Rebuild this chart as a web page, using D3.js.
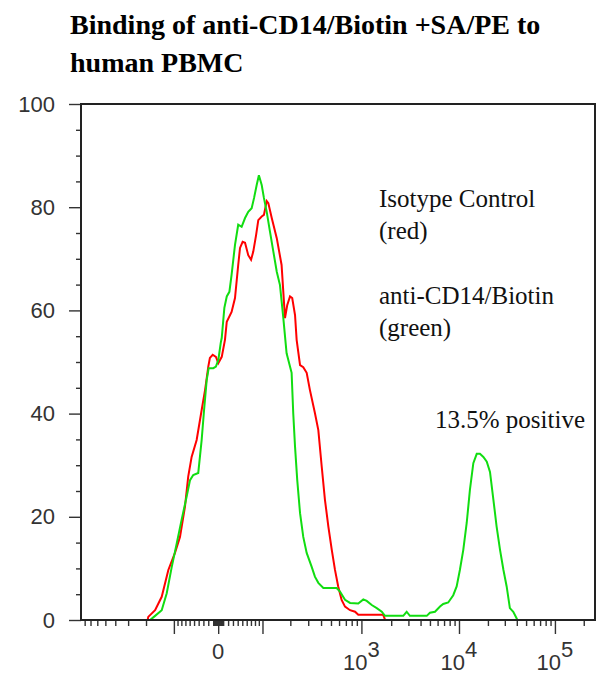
<!DOCTYPE html>
<html>
<head>
<meta charset="utf-8">
<script src="https://cdn.jsdelivr.net/npm/d3@7"></script>
<style>
  body { margin: 0; background: #fff; }
  svg { display: block; }
</style>
</head>
<body>
<svg id="chart"></svg>
<script>
// histogram traces: [display channel (0-256), % of max]
const isotypeRed = [
  [0, 0], [33.2, 0], [33.5, 0.6], [36.9, 1.9], [40.2, 4.5], [43.5, 9.7], [46.8, 13.0],
  [49.3, 16.1], [51.8, 22.0], [53.4, 27.8], [55.1, 31.6], [57.6, 34.9], [60.1, 40.7],
  [61.8, 44.6], [63.4, 49.1], [64.2, 50.8], [65.6, 51.4], [67.2, 51.0], [68.4, 49.8],
  [70.1, 51.0], [71.7, 54.3], [72.6, 57.8], [75.0, 59.7], [76.7, 62.4], [78.3, 68.8],
  [79.2, 72.1], [80.5, 73.3], [81.7, 73.1], [83.3, 70.7], [84.7, 69.8], [85.8, 71.4],
  [87.2, 74.6], [88.3, 77.5], [90.0, 78.2], [91.1, 78.5], [92.5, 81.2], [93.3, 80.8],
  [95.0, 77.9], [97.5, 74.0], [99.9, 68.8], [101.6, 58.5], [102.7, 61.0], [104.1, 62.7],
  [105.2, 62.4], [106.6, 59.1], [107.4, 54.3], [109.1, 49.4], [110.7, 49.0], [112.4, 47.9],
  [114.0, 44.6], [116.5, 40.1], [118.2, 36.8], [119.9, 29.7], [121.5, 23.3], [123.2, 18.1],
  [124.9, 13.6], [126.5, 9.7], [128.1, 6.5], [129.8, 3.9], [131.5, 2.6], [134.0, 1.9],
  [136.5, 1.6], [138.1, 1.0], [150.5, 1.0], [151.5, 0], [256, 0]
];

const cd14Green = [
  [0, 0], [34.4, 0], [36.9, 0.8], [40.2, 1.9], [42.7, 5.2], [45.2, 10.3], [47.7, 14.9],
  [50.1, 19.4], [52.6, 23.9], [54.3, 27.1], [55.9, 28.1], [58.4, 28.5], [60.1, 34.9],
  [61.3, 40.7], [62.6, 46.5], [63.6, 48.8], [65.9, 48.8], [67.2, 49.1], [68.4, 50.4],
  [69.6, 53.7], [70.1, 54.7], [71.4, 60.5], [72.6, 62.7], [73.9, 63.6], [75.0, 66.9],
  [76.7, 72.7], [78.3, 76.6], [80.0, 76.2], [81.7, 77.9], [83.3, 79.1], [85.0, 79.8],
  [86.2, 81.8], [87.5, 84.3], [88.6, 86.2], [90.0, 84.3], [91.1, 81.8], [92.5, 79.1],
  [94.1, 75.3], [95.8, 71.4], [97.5, 67.5], [99.1, 64.9], [100.7, 58.8], [102.4, 51.7],
  [104.9, 47.9], [105.7, 40.1], [106.6, 33.6], [107.7, 27.1], [109.1, 20.7], [110.7, 16.1],
  [112.4, 13.0], [114.9, 10.3], [116.5, 8.4], [118.2, 7.2], [120.7, 6.2], [127.3, 6.2],
  [129.0, 5.5], [131.5, 3.9], [134.0, 3.3], [138.1, 3.2], [140.6, 4.0], [142.3, 3.7],
  [144.8, 2.9], [147.3, 2.3], [149.8, 1.6], [151.4, 0.8], [160.5, 0.8], [162.2, 1.6],
  [163.8, 0.8], [172.2, 0.8], [173.8, 1.4], [176.3, 1.6], [178.8, 2.6], [180.4, 3.1],
  [182.9, 3.4], [185.4, 4.8], [187.1, 6.5], [188.7, 9.7], [190.4, 13.6], [192.1, 18.8],
  [193.7, 25.2], [195.4, 30.4], [197.1, 32.2], [198.7, 32.2], [200.4, 31.6], [202.1, 30.7],
  [203.7, 28.7], [205.4, 23.3], [207.0, 18.1], [208.7, 13.6], [210.4, 9.7], [212.0, 6.5],
  [213.6, 2.3], [215.3, 1.6], [217.0, 0.3], [217.5, 0], [256, 0]
];

const yMajorTicks = [0, 20, 40, 60, 80, 100];
const yMinorTicks = [5, 10, 15, 25, 30, 35, 45, 50, 55, 65, 70, 75, 85, 90, 95];
const xMajorTicks = [-100, 0, 100, 1000, 10000, 100000];
const xTickLabels = [
  { value: 0, base: '0', exp: '' },
  { value: 1000, base: '10', exp: '3' },
  { value: 10000, base: '10', exp: '4' },
  { value: 100000, base: '10', exp: '5' }
];
const xRange = [-870, 262144];
const titleLines = ['Binding of anti-CD14/Biotin +SA/PE to', 'human PBMC'];
const legendLines = ['Isotype Control', '(red)', 'anti-CD14/Biotin', '(green)'];
const peakNote = '13.5% positive';

// biexponential (logicle-like) display transform, u in decades from zero
const K = 30.3, P = 1.75;
function biex(u) {
  const a = Math.abs(u);
  const s = K * (Math.pow(10, a) - P * P * Math.pow(10, -a / P) + P * P - 1);
  return u < 0 ? -s : s;
}
function toU(v) {
  let lo = -4, hi = 6;
  for (let i = 0; i < 60; i++) {
    const mid = (lo + hi) / 2;
    if (biex(mid) < v) lo = mid; else hi = mid;
  }
  return (lo + hi) / 2;
}

// minor ticks: 1..9 x 10^k on both sides of zero
const xMinorTicks = [];
for (let k = 0; k <= 5; k++) {
  for (let m = 1; m <= 9; m++) {
    const v = m * Math.pow(10, k);
    if (xMajorTicks.includes(v)) continue;
    if (v <= xRange[1]) xMinorTicks.push(v);
    if (-v >= xRange[0] && !xMajorTicks.includes(-v)) xMinorTicks.push(-v);
  }
}

const width = 604;
const height = 677;
const margin = { top: 104, right: 9, bottom: 57, left: 81 };
const pw = width - margin.left - margin.right;
const ph = height - margin.top - margin.bottom;

const svg = d3.select('#chart')
  .attr('width', width)
  .attr('height', height);

svg.append('rect').attr('width', width).attr('height', height).attr('fill', '#fff');

const g = svg.append('g')
  .attr('transform', `translate(${margin.left},${margin.top})`);

const y = d3.scaleLinear().domain([0, 100]).range([ph, 0]);
const xu = d3.scaleLinear().domain([toU(xRange[0]), toU(xRange[1])]).range([0, pw]);
const xch = d3.scaleLinear().domain([0, 256]).range([0, pw]);

// Title
svg.append('g')
  .selectAll('text')
  .data(titleLines)
  .enter()
  .append('text')
  .attr('x', 70)
  .attr('y', (d, i) => 34 + i * 38)
  .style('font-family', '"Liberation Serif", "Times New Roman", serif')
  .style('font-weight', 'bold')
  .style('font-size', '28px')
  .attr('fill', '#000')
  .text(d => d);

// Y axis
const yMajor = g.append('g')
  .call(d3.axisLeft(y).tickValues(yMajorTicks).tickSize(12).tickPadding(14));
yMajor.selectAll('text')
  .style('font-family', '"Liberation Sans", Arial, sans-serif')
  .style('font-size', '22px')
  .attr('fill', '#333');

const yMinor = g.append('g')
  .call(d3.axisLeft(y).tickValues(yMinorTicks).tickSize(5).tickFormat(''));

// X axis
const xMajor = g.append('g')
  .attr('transform', `translate(0,${ph})`)
  .call(d3.axisBottom(xu).tickValues(xMajorTicks.map(toU)).tickSize(14).tickFormat(''));
const xMinor = g.append('g')
  .attr('transform', `translate(0,${ph})`)
  .call(d3.axisBottom(xu).tickValues(xMinorTicks.map(toU)).tickSize(6).tickFormat(''));

[yMajor, yMinor, xMajor, xMinor].forEach(ax => {
  ax.select('.domain').remove();
  ax.selectAll('line').attr('stroke', '#333').attr('stroke-width', 1.4);
});

const xLabels = g.append('g')
  .selectAll('text')
  .data(xTickLabels)
  .enter()
  .append('text')
  .attr('x', d => xu(toU(d.value)))
  .attr('y', d => d.exp ? ph + 50 : ph + 39)
  .attr('text-anchor', 'middle')
  .style('font-family', '"Liberation Sans", Arial, sans-serif')
  .style('font-size', '22px')
  .attr('fill', '#333');
xLabels.append('tspan').text(d => d.base);
xLabels.filter(d => d.exp).append('tspan')
  .attr('dy', -13)
  .text(d => d.exp);

// Histograms
const line = d3.line()
  .x(d => xch(d[0]))
  .y(d => y(d[1]));

g.append('path')
  .datum(isotypeRed)
  .attr('fill', 'none')
  .attr('stroke', '#ff0000')
  .attr('stroke-width', 2)
  .attr('d', line);

g.append('path')
  .datum(cd14Green)
  .attr('fill', 'none')
  .attr('stroke', '#11dd11')
  .attr('stroke-width', 2)
  .attr('d', line);

// Frame
g.append('rect')
  .attr('width', pw)
  .attr('height', ph)
  .attr('fill', 'none')
  .attr('stroke', '#222')
  .attr('stroke-width', 2);

// Legend text
const legendY = [207, 239, 304, 336];
svg.append('g')
  .selectAll('text')
  .data(legendLines)
  .enter()
  .append('text')
  .attr('x', 379)
  .attr('y', (d, i) => legendY[i])
  .style('font-family', '"Liberation Serif", "Times New Roman", serif')
  .style('font-size', '25px')
  .attr('fill', '#111')
  .text(d => d);

svg.append('text')
  .attr('x', 435)
  .attr('y', 428)
  .style('font-family', '"Liberation Serif", "Times New Roman", serif')
  .style('font-size', '25px')
  .attr('fill', '#111')
  .text(peakNote);
</script>
</body>
</html>
